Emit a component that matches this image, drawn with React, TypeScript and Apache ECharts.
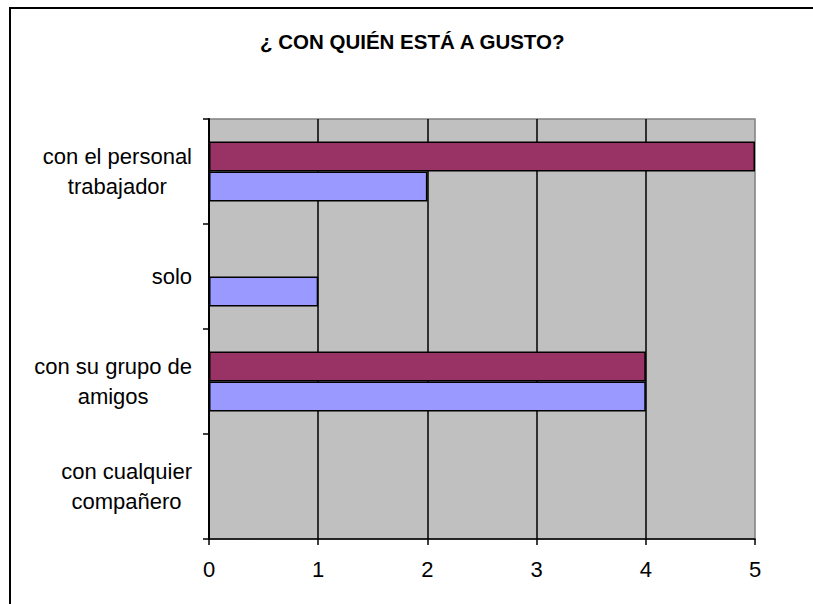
import React, { useEffect, useRef } from "react";
import * as echarts from "echarts";

const title = "¿ CON QUIÉN ESTÁ A GUSTO?";
const categories = [
  "con el personal\ntrabajador",
  "solo",
  "con su grupo de\namigos",
  "con cualquier\ncompañero",
];
const seriesMaroon = [5, 0, 4, 0];
const seriesBlue = [2, 1, 4, 0];
const xTicks = [0, 1, 2, 3, 4, 5];

const FONT = "'Liberation Sans', Arial, sans-serif";

export default function App() {
  const ref = useRef<HTMLDivElement>(null);
  useEffect(() => {
    if (!ref.current) return;
    const chart = echarts.init(ref.current, null, { renderer: "svg" });
    chart.setOption({
      animation: false,
      backgroundColor: "#ffffff",
      title: {
        text: title,
        left: 260,
        top: 31,
        padding: 0,
        textStyle: { fontFamily: FONT, fontSize: 20.5, fontWeight: "bold", color: "#000" },
      },
      graphic: [
        {
          type: "rect",
          shape: { x: 10, y: 8, width: 1000, height: 1000 },
          style: { fill: "none", stroke: "#000", lineWidth: 2 },
          silent: true,
        },
      ],
      grid: {
        left: 209,
        right: 58,
        top: 119,
        bottom: 65,
        show: true,
        backgroundColor: "#c0c0c0",
        borderColor: "#808080",
        borderWidth: 1.5,
      },
      xAxis: {
        type: "value",
        min: xTicks[0],
        max: xTicks[xTicks.length - 1],
        interval: 1,
        axisLine: { show: true, lineStyle: { color: "#000", width: 1.5 } },
        axisTick: { show: true, length: 6, lineStyle: { color: "#000", width: 1.5 } },
        axisLabel: { margin: 19, fontFamily: FONT, fontSize: 22, color: "#000" },
        splitLine: {
          show: true,
          showMinLine: false,
          showMaxLine: false,
          lineStyle: { color: "#000", width: 1.5 },
        },
      },
      yAxis: {
        type: "category",
        inverse: true,
        data: categories,
        axisLine: { show: true, lineStyle: { color: "#000", width: 2 } },
        axisTick: { show: true, length: 6, lineStyle: { color: "#000", width: 1.5 } },
        axisLabel: {
          margin: 17,
          align: "right",
          fontFamily: FONT,
          fontSize: 22,
          color: "#000",
          formatter: (v: string) => v.split("\n").map((l) => `{c|${l}}`).join("\n"),
          rich: {
            c: { align: "center", fontFamily: FONT, fontSize: 22, color: "#000", lineHeight: 30 },
          },
        },
        splitLine: { show: false },
      },
      series: [
        {
          type: "bar",
          data: seriesMaroon,
          barWidth: 30,
          barGap: "0%",
          itemStyle: { color: "#993366", borderColor: "#000", borderWidth: 1.5 },
        },
        {
          type: "bar",
          data: seriesBlue,
          barWidth: 30,
          barGap: "0%",
          itemStyle: { color: "#9999ff", borderColor: "#000", borderWidth: 1.5 },
        },
      ],
    });
    return () => chart.dispose();
  }, []);
  return (
    <div
      ref={ref}
      style={{ position: "absolute", left: 0, top: 0, width: 813, height: 604 }}
    />
  );
}
